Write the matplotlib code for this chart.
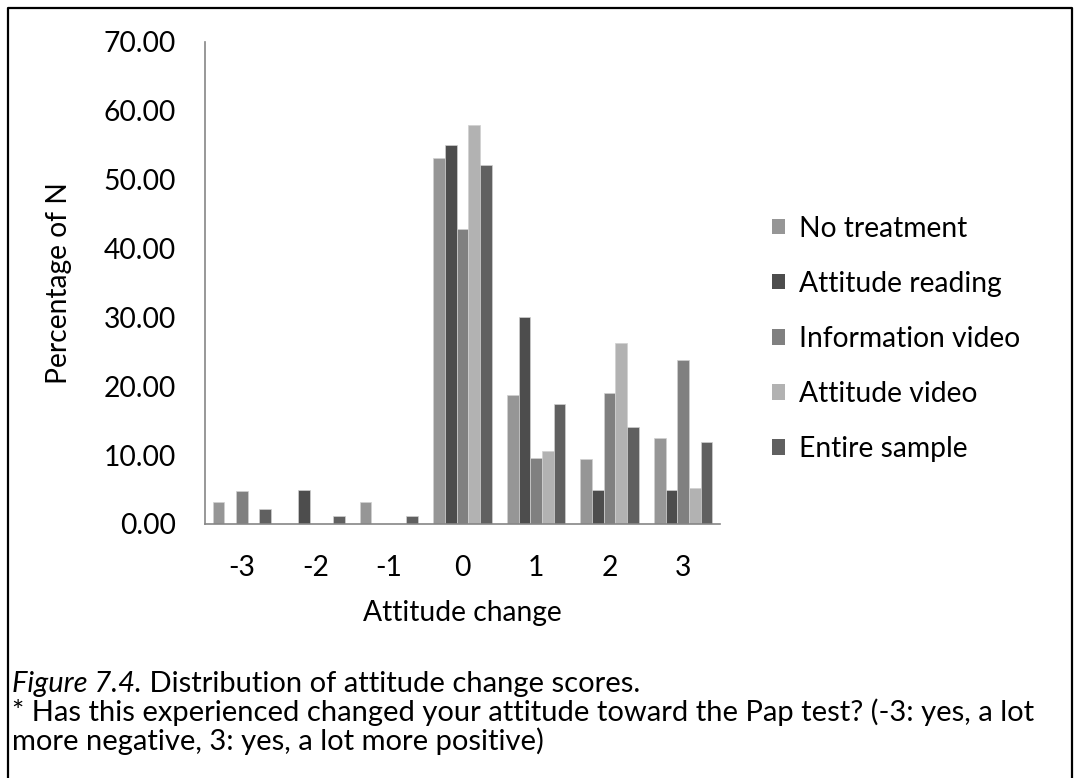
import matplotlib.pyplot as plt
import numpy as np
from matplotlib.lines import Line2D
from matplotlib.patches import Patch

plt.rcParams["font.family"] = ["Lato", "DejaVu Sans"]

categories = ["-3", "-2", "-1", "0", "1", "2", "3"]
no_treatment = [3.13, 0.0, 3.13, 53.13, 18.75, 9.38, 12.50]
attitude_reading = [0.0, 5.00, 0.0, 55.00, 30.00, 5.00, 5.00]
information_video = [4.76, 0.0, 0.0, 42.86, 9.52, 19.05, 23.81]
attitude_video = [0.0, 0.0, 0.0, 57.89, 10.53, 26.32, 5.26]
entire_sample = [2.17, 1.09, 1.09, 52.17, 17.39, 14.13, 11.96]

series_names = ["No treatment", "Attitude reading", "Information video",
                "Attitude video", "Entire sample"]
series_colors = ["#969696", "#4d4d4d", "#808080", "#b2b2b2", "#606060"]
yticks = [0, 10, 20, 30, 40, 50, 60, 70]

W, H = 1075, 778
FS = 20.3
fig = plt.figure(figsize=(W / 100, H / 100), dpi=100)
ax = fig.add_axes([205 / W, 1 - 524 / H, 515 / W, 482 / H])

x = np.arange(len(categories))
bw = 0.159
all_series = [no_treatment, attitude_reading, information_video,
              attitude_video, entire_sample]
for i, (vals, col) in enumerate(zip(all_series, series_colors)):
    ax.bar(x + (i - 2) * bw, vals, width=bw, color=col,
           edgecolor="#d0d0d0", linewidth=0.5, zorder=2)

ax.set_xlim(-0.5, len(categories) - 0.5)
ax.set_ylim(0, 70)
ax.set_yticks(yticks)
ax.set_yticklabels([f"{v:.2f}" for v in yticks])
ax.set_xticks(x)
ax.set_xticklabels(categories)
ax.tick_params(axis="y", length=0, pad=21, labelsize=FS)
ax.tick_params(axis="x", length=0, pad=22, labelsize=FS)
for s in ["top", "right"]:
    ax.spines[s].set_visible(False)
for s in ["left", "bottom"]:
    ax.spines[s].set_color("#868686")
    ax.spines[s].set_linewidth(1.2)

ax.set_ylabel("Percentage of N", fontsize=FS, va="center")
ax.yaxis.set_label_coords((59 - 205) / 515, 0.5)
ax.set_xlabel("Attitude change", fontsize=FS, va="center")
ax.xaxis.set_label_coords(0.5, -(613 - 524) / 482)

handles = [Patch(facecolor=c, edgecolor="none") for c in series_colors]
fig.legend(handles, series_names, loc="center left",
           bbox_to_anchor=(761 / W, 1 - 339 / H), frameon=False,
           fontsize=FS, handlelength=0.45, handleheight=0.45,
           handletextpad=0.5, labelspacing=1.03, borderaxespad=0)

# caption
cap_size = 21
x0 = 12 / W
t = fig.text(x0, 1 - 692 / H, "Figure 7.4.", fontsize=cap_size,
             style="italic", va="baseline")
fig.canvas.draw()
bb = t.get_window_extent(fig.canvas.get_renderer())
fig.text(bb.x1 / W, 1 - 692 / H, " Distribution of attitude change scores.",
         fontsize=cap_size, va="baseline")
fig.text(x0, 1 - 721 / H,
         "* Has this experienced changed your attitude toward the Pap test? (-3: yes, a lot",
         fontsize=cap_size, va="baseline")
fig.text(x0, 1 - 750 / H, "more negative, 3: yes, a lot more positive)",
         fontsize=cap_size, va="baseline")

# border around the figure (open at the bottom)
bx = [8 / W, 8 / W, 1072 / W, 1072 / W]
by = [0, 1 - 8 / H, 1 - 8 / H, 0]
fig.add_artist(Line2D(bx, by, color="black", linewidth=1.6,
                      transform=fig.transFigure))

fig.savefig("out.png", dpi=100)
